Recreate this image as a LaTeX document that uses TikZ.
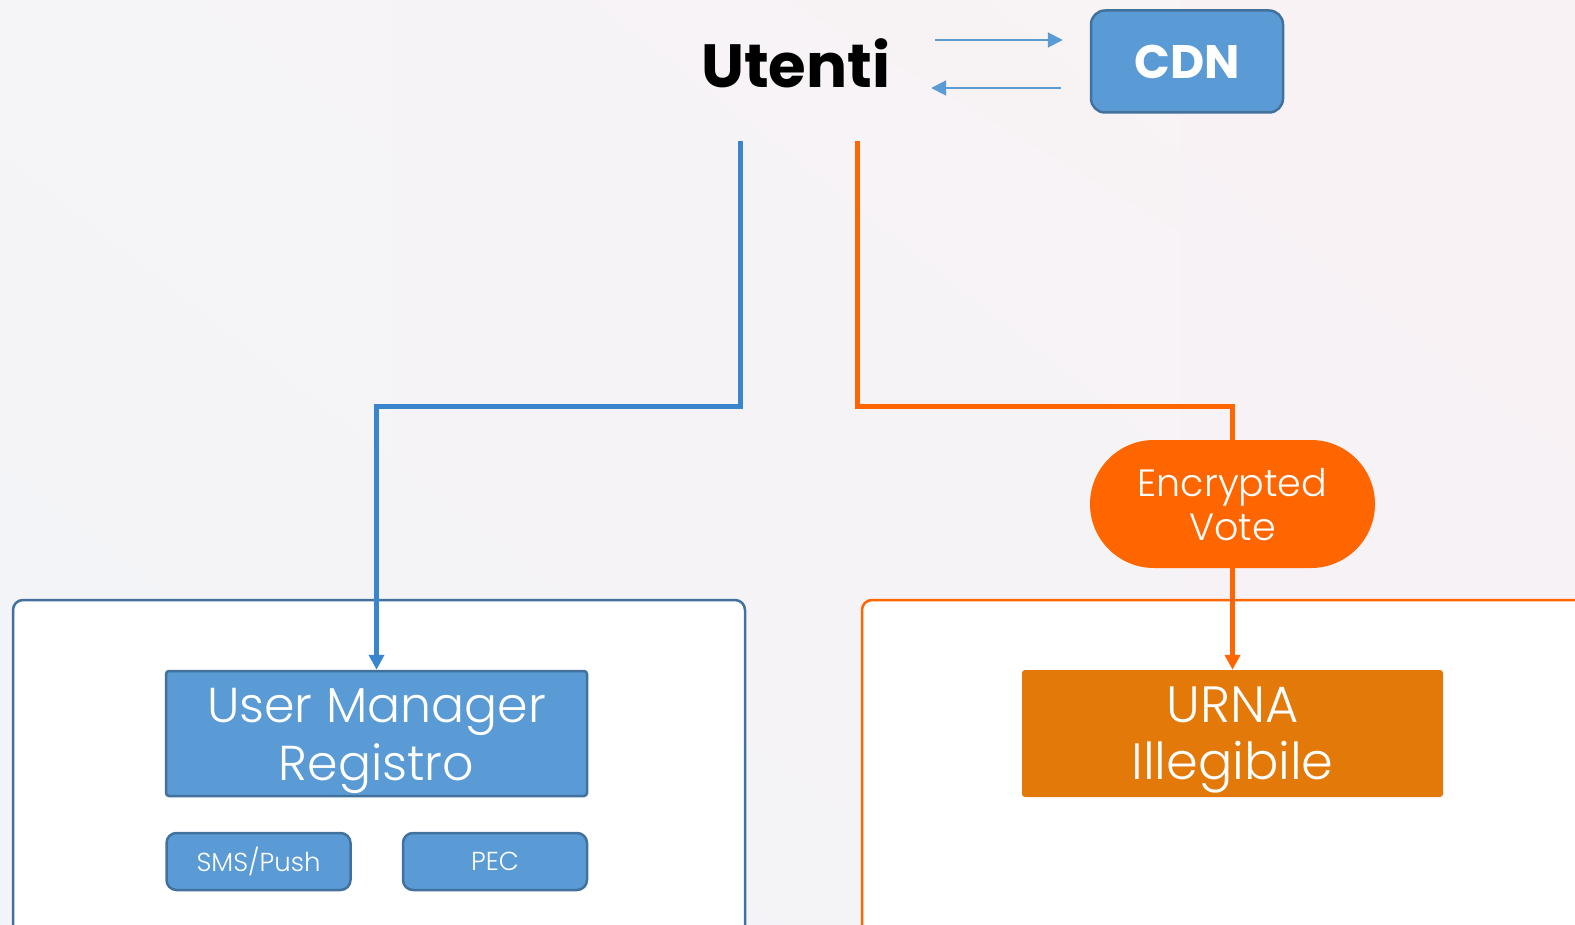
\documentclass[tikz,border=0pt]{standalone}
\usepackage{fontspec}
\setmainfont{Poppins}[UprightFont=* Light, BoldFont=* Bold]
\usepackage{tikz}
\usetikzlibrary{arrows.meta}
\usetikzlibrary{positioning}
\usetikzlibrary{shadings}
\definecolor{azzurro}{RGB}{91,155,213}
\definecolor{bordoblu}{RGB}{65,113,156}
\definecolor{linea}{RGB}{58,134,206}
\definecolor{arancio}{RGB}{255,102,0}
\definecolor{urnacol}{RGB}{226,121,8}
\definecolor{fondoA}{RGB}{242,244,247}
\definecolor{fondoB}{RGB}{245,244,246}
\definecolor{fondoC}{RGB}{249,242,245}
\definecolor{fondoD}{RGB}{246,242,246}
\tikzstyle{titolo}=[inner sep=0pt,text=black,text width=188pt,align=center,font=\bfseries\fontsize{61}{61}\selectfont]
\tikzstyle{cdn}=[rectangle,draw=bordoblu,line width=2.5pt,fill=azzurro,rounded corners=14pt,
minimum width=192pt,minimum height=102pt,text=white,font=\bfseries\fontsize{47}{47}\selectfont]
\tikzstyle{modulo}=[rectangle,draw=bordoblu,line width=2.5pt,fill=azzurro,rounded corners=3pt,
minimum width=421pt,minimum height=125pt,text=white,align=center,text depth=0pt,font=\fontsize{49}{58}\selectfont]
\tikzstyle{servizio}=[rectangle,draw=bordoblu,line width=2.5pt,fill=azzurro,rounded corners=10pt,
minimum width=184pt,minimum height=57pt,text=white,font=\fontsize{26}{26}\selectfont]
\tikzstyle{urna}=[rectangle,fill=urnacol,rounded corners=3pt,
minimum width=421pt,minimum height=127pt,text=white,align=center,text depth=0pt,font=\fontsize{51}{57}\selectfont]
\tikzstyle{pillola}=[rectangle,fill=arancio,rounded corners=64pt,
minimum width=285pt,minimum height=128pt,text=white,align=center,text depth=0pt,font=\fontsize{38}{44}\selectfont]
\tikzstyle{freccina}=[-{Triangle[length=15pt,width=15pt]},line width=2pt,draw=azzurro]
\tikzstyle{filoblu}=[-{Triangle[length=15pt,width=15pt]},line width=5pt,draw=linea]
\tikzstyle{filoarancio}=[line width=5pt,draw=arancio]
\newcommand{\giu}[1]{\rule{0pt}{#1}}

\begin{document}
\begin{tikzpicture}[x=1pt,y=-1pt]
\useasboundingbox (0,0) rectangle (1575,925);
\clip (0,0) rectangle (1575,925);
\shade[lower left=fondoA,upper left=fondoB,upper right=fondoC,lower right=fondoD] (0,0) rectangle (1575,925);
\draw[draw=bordoblu,line width=2.5pt,fill=white,rounded corners=10pt] (13,600) rectangle (745,960);
\draw[draw=arancio,line width=2.5pt,fill=white,rounded corners=10pt] (862,600) rectangle (1600,960);
\node[titolo] (utenti) at (795,63.5) {Utenti};
\node[cdn] (cdn) at (1187,61.5) {CDN};
\node[modulo] (manager) at (376.5,733.5) {\giu{35pt}User Manager\\Registro};
\node[servizio] (sms) at (258.5,861.5) {SMS/Push};
\node[servizio] (pec) at (495,861.5) {PEC};
\node[pillola] (voto) at (1232.5,504) {\giu{26pt}Encrypted\\Vote};
\node[urna] (urna) at (1232.5,733.5) {\giu{35pt}URNA\\Illegibile};
\coordinate (uscitab) at (740,141);
\coordinate (uscitaa) at (857.5,141);
%collegamenti
\draw[freccina] ([xshift=46pt,yshift=23.5pt]utenti.east) -- ([xshift=-27pt,yshift=21.5pt]cdn.west);
\draw[freccina] ([xshift=-29pt,yshift=-26.5pt]cdn.west) -- ([xshift=42pt,yshift=-24.5pt]utenti.east);
\draw[filoblu] (uscitab) -- ++(0,265) -| (manager.north);
\draw[filoarancio] (uscitaa) -- ++(0,265) -| (voto.north);
\draw[filoarancio,-{Triangle[length=15pt,width=15pt]}] (voto) -- (urna);
\end{tikzpicture}
\end{document}
